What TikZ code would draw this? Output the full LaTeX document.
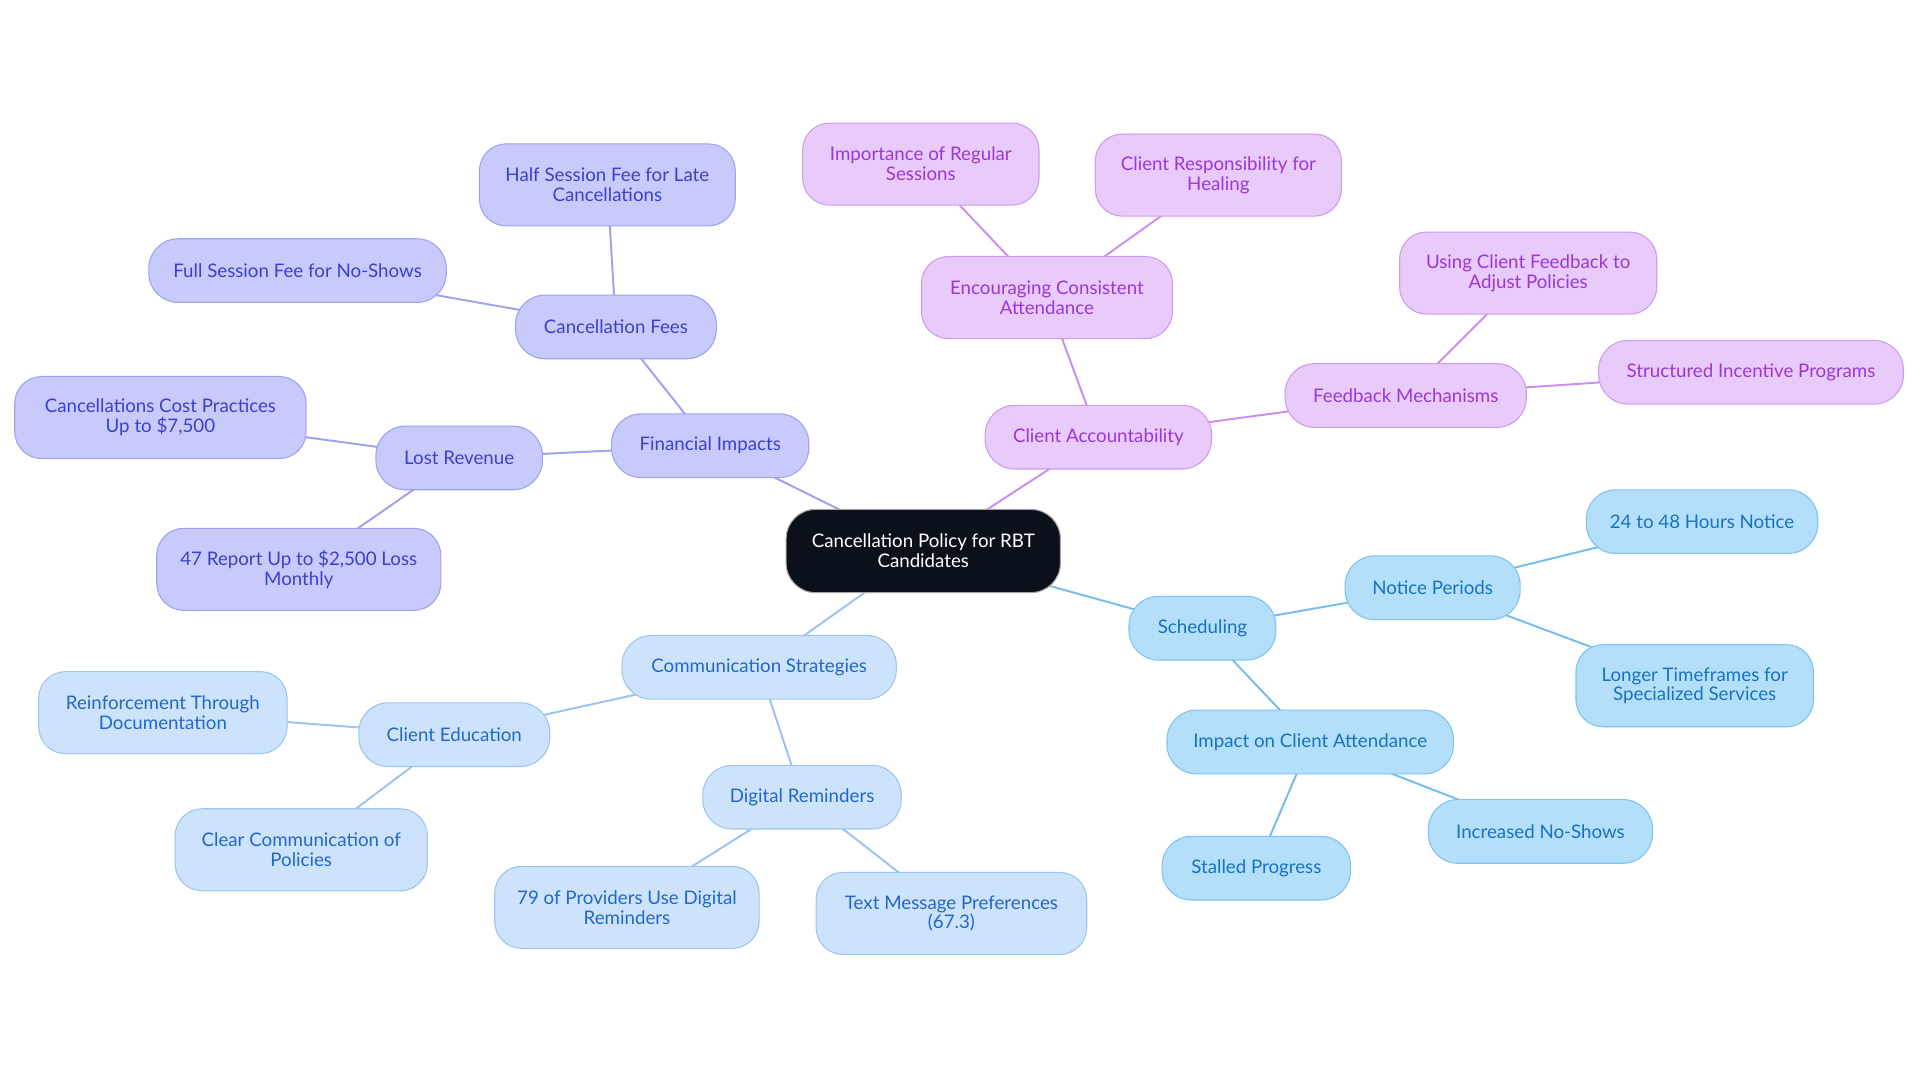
\documentclass[tikz,border=0pt]{standalone}
\usepackage{fontspec}
\setmainfont{Lato}
\usetikzlibrary{backgrounds}
\definecolor{indF}{HTML}{C8CAFC}\definecolor{indB}{HTML}{9EA3F0}\definecolor{indT}{HTML}{3B40CF}\definecolor{indE}{HTML}{9DA1F0}
\definecolor{vioF}{HTML}{E8CAFB}\definecolor{vioB}{HTML}{CD9BF0}\definecolor{vioT}{HTML}{9B37D8}\definecolor{vioE}{HTML}{C98EF0}
\definecolor{skyF}{HTML}{B3DFFB}\definecolor{skyB}{HTML}{7FC3F0}\definecolor{skyT}{HTML}{1872C4}\definecolor{skyE}{HTML}{74BDEF}
\definecolor{ltF}{HTML}{CDE3FB}\definecolor{ltB}{HTML}{9EC5F0}\definecolor{ltT}{HTML}{2167CC}\definecolor{ltE}{HTML}{9AC3F0}
\definecolor{rootF}{HTML}{0B111A}
\newcommand\nodefont{\fontsize{8.7}{9.2}\selectfont}
\tikzset{
 box/.style={rounded corners=0.48cm, draw, line width=0.5pt, align=center, inner sep=0pt, font=\nodefont, minimum height=1.04cm},
 two/.style={minimum height=1.34cm, rounded corners=0.44cm},
 ind/.style={box, fill=indF, draw=indB, text=indT},
 vio/.style={box, fill=vioF, draw=vioB, text=vioT},
 sky/.style={box, fill=skyF, draw=skyB, text=skyT},
 lt/.style={box, fill=ltF, draw=ltB, text=ltT},
 rootbox/.style={box, fill=rootF, draw=gray!70, text=white, minimum height=1.36cm},
 eind/.style={draw=indE, line width=0.9pt},
 evio/.style={draw=vioE, line width=0.9pt},
 esky/.style={draw=skyE, line width=0.9pt},
 elt/.style={draw=ltE, line width=0.9pt},
}
\begin{document}
\begin{tikzpicture}[x=0.02cm, y=-0.02cm]
\useasboundingbox (0,0) rectangle (1568,884);
% root
\node[rootbox, minimum width=4.48cm] (root) at (754,450) {Cancellation Policy for RBT\\Candidates};
% indigo
\node[ind, minimum width=3.22cm] (fin) at (580,364) {Financial Impacts};
\node[ind, minimum width=3.28cm] (fees) at (503,267) {Cancellation Fees};
\node[ind, two, minimum width=4.18cm] (half) at (496,151) {Half Session Fee for Late\\Cancellations};
\node[ind, minimum width=4.86cm] (full) at (243,221) {Full Session Fee for No-Shows};
\node[ind, minimum width=2.72cm] (lost) at (375,374) {Lost Revenue};
\node[ind, two, minimum width=4.76cm] (cost) at (131,341) {Cancellations Cost Practices\\Up to \$7,500};
\node[ind, two, minimum width=4.64cm] (rep) at (244,465) {47 Report Up to \$2,500 Loss\\Monthly};
% violet
\node[vio, minimum width=3.70cm] (acc) at (897,357) {Client Accountability};
\node[vio, two, minimum width=4.10cm] (enc) at (855,243) {Encouraging Consistent\\Attendance};
\node[vio, two, minimum width=3.86cm] (imp) at (752,134) {Importance of Regular\\Sessions};
\node[vio, two, minimum width=4.02cm] (resp) at (995,143) {Client Responsibility for\\Healing};
\node[vio, minimum width=3.94cm] (fb) at (1148,323) {Feedback Mechanisms};
\node[vio, two, minimum width=4.20cm] (using) at (1248,223) {Using Client Feedback to\\Adjust Policies};
\node[vio, minimum width=4.98cm] (struct) at (1430,304) {Structured Incentive Programs};
% sky
\node[sky, minimum width=2.40cm] (sched) at (982,513) {Scheduling};
\node[sky, minimum width=2.86cm] (notice) at (1170,480) {Notice Periods};
\node[sky, minimum width=3.78cm] (hours) at (1390,426) {24 to 48 Hours Notice};
\node[sky, two, minimum width=3.88cm] (longer) at (1384,560) {Longer Timeframes for\\Specialized Services};
\node[sky, minimum width=4.68cm] (impact) at (1070,606) {Impact on Client Attendance};
\node[sky, minimum width=3.08cm] (stalled) at (1026,709) {Stalled Progress};
\node[sky, minimum width=3.66cm] (noshow) at (1258,679) {Increased No-Shows};
% light blue
\node[lt, minimum width=4.48cm] (comm) at (620,545) {Communication Strategies};
\node[lt, minimum width=3.12cm] (edu) at (371,600) {Client Education};
\node[lt, two, minimum width=4.06cm] (reinf) at (133,582) {Reinforcement Through\\Documentation};
\node[lt, two, minimum width=4.12cm] (clear) at (246,694) {Clear Communication of\\Policies};
\node[lt, minimum width=3.24cm] (dig) at (655,651) {Digital Reminders};
\node[lt, two, minimum width=4.32cm] (prov) at (512,741) {79 of Providers Use Digital\\Reminders};
\node[lt, two, minimum width=4.42cm] (sms) at (777,746) {Text Message Preferences\\(67.3)};
\begin{pgfonlayer}{background}
\fill[white] (0,0) rectangle (1568,884);
\draw[eind] (root.center) -- (fin.center);
\draw[eind] (fin.center) -- (fees.center);
\draw[eind] (fin.center) -- (lost.center);
\draw[eind] (fees.center) -- (half.center);
\draw[eind] (fees.center) -- (full.center);
\draw[eind] (lost.center) -- (cost.center);
\draw[eind] (lost.center) -- (rep.center);
\draw[evio] (root.center) -- (acc.center);
\draw[evio] (acc.center) -- (enc.center);
\draw[evio] (acc.center) -- (fb.center);
\draw[evio] (enc.center) -- (imp.center);
\draw[evio] (enc.center) -- (resp.center);
\draw[evio] (fb.center) -- (using.center);
\draw[evio] (fb.center) -- (struct.center);
\draw[esky] (root.center) -- (sched.center);
\draw[esky] (sched.center) -- (notice.center);
\draw[esky] (sched.center) -- (impact.center);
\draw[esky] (notice.center) -- (hours.center);
\draw[esky] (notice.center) -- (longer.center);
\draw[esky] (impact.center) -- (stalled.center);
\draw[esky] (impact.center) -- (noshow.center);
\draw[elt] (root.center) -- (comm.center);
\draw[elt] (comm.center) -- (edu.center);
\draw[elt] (comm.center) -- (dig.center);
\draw[elt] (edu.center) -- (reinf.center);
\draw[elt] (edu.center) -- (clear.center);
\draw[elt] (dig.center) -- (prov.center);
\draw[elt] (dig.center) -- (sms.center);
\end{pgfonlayer}
\end{tikzpicture}
\end{document}
